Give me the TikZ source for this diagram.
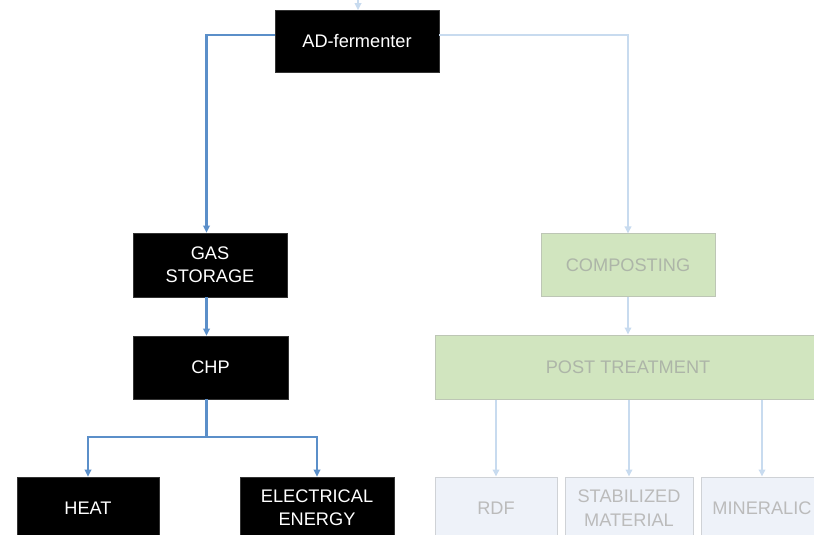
\documentclass[tikz,border=0pt]{standalone}
\usepackage{fontspec}
\setmainfont{Liberation Sans}
\usetikzlibrary{arrows.meta,calc}
\definecolor{darkarrow}{HTML}{5B8FC9}
\definecolor{lightarrow}{HTML}{C8DBEF}
\definecolor{greenfill}{HTML}{D1E5BF}
\definecolor{greenborder}{HTML}{BDC6B5}
\definecolor{greentext}{HTML}{ADB5A8}
\definecolor{palefill}{HTML}{EEF2F9}
\definecolor{paleborder}{HTML}{CFD2D6}
\definecolor{paletext}{HTML}{BBBBBB}
\tikzset{
  base/.style={rectangle, inner sep=0pt, align=center, font=\fontsize{18.2bp}{23.3bp}\selectfont},
  blackbox/.style={base, fill=black, draw=black!80, line width=0.6bp, text=white},
  greenbox/.style={base, fill=greenfill, draw=greenborder, line width=1bp, text=greentext},
  palebox/.style={base, fill=palefill, draw=paleborder, line width=1bp, text=paletext},
  darkline/.style={draw=darkarrow, line width=2.3bp},
  lightline/.style={draw=lightarrow, line width=2.3bp},
  tip/.style={-{Triangle[length=7bp,width=6.5bp]}},
}
\begin{document}
\begin{tikzpicture}[x=1bp,y=-1bp]
\useasboundingbox (0,0) rectangle (814,535);
\clip (0,0) rectangle (814,535);
% nodes
\node[blackbox, minimum width=164bp, minimum height=62bp] (ad) at (357,41.5) {AD-fermenter};
\node[blackbox, minimum width=154bp, minimum height=64bp] (gas) at (210,265) {GAS\\STORAGE};
\node[blackbox, minimum width=155bp, minimum height=63bp] (chp) at (210.5,367.5) {CHP};
\node[blackbox, minimum width=142bp, minimum height=62bp] (heat) at (88,508) {HEAT};
\node[blackbox, minimum width=154bp, minimum height=62bp] (elec) at (317,508) {ELECTRICAL\\ENERGY};
\node[greenbox, minimum width=174bp, minimum height=62bp] (comp) at (628,265) {COMPOSTING};
\node[greenbox, minimum width=386bp, minimum height=64bp] (post) at (628,367) {POST TREATMENT};
\node[palebox, minimum width=122bp, minimum height=62bp] (rdf) at (496,508) {RDF};
\node[palebox, minimum width=128bp, minimum height=62bp] (stab) at (629,508) {STABILIZED\\MATERIAL};
\node[palebox, minimum width=122bp, minimum height=62bp] (mine) at (762,508) {MINERALIC};
% coordinates
\coordinate (topin) at (358,-2);
\coordinate (spine) at (206.5,437);
% connectors
\draw[lightline, tip] (topin) -- (ad.north -| topin);
\draw[darkline, tip] ([yshift=6.5bp]ad.west) -| (gas.north -| spine);
\draw[lightline, tip] ([yshift=6.5bp]ad.east) -| (comp.north);
\draw[darkline, tip] (gas.south -| spine) -- (chp.north -| spine);
\draw[darkline] (chp.south -| spine) -- (spine);
\draw[darkline, tip] (spine) -| (heat.north);
\draw[darkline, tip] (spine) -| (elec.north);
\draw[lightline, tip] (comp.south) -- (post.north);
\draw[lightline, tip] (post.south -| rdf.north) -- (rdf.north);
\draw[lightline, tip] (post.south -| stab.north) -- (stab.north);
\draw[lightline, tip] (post.south -| mine.north) -- (mine.north);
\end{tikzpicture}
\end{document}
